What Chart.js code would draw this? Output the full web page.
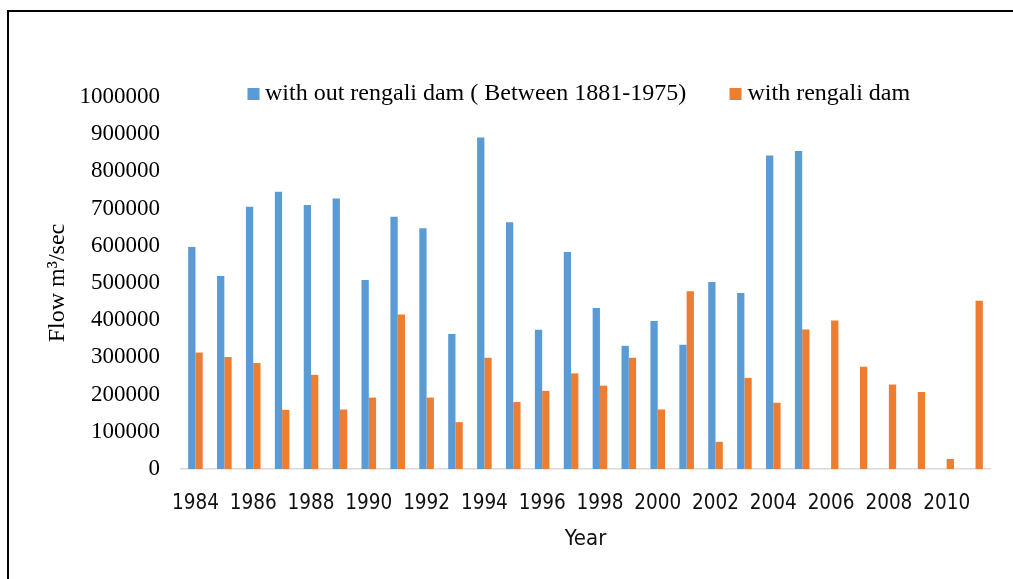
<!DOCTYPE html>
<html>
<head>
<meta charset="utf-8">
<script src="https://cdn.jsdelivr.net/npm/chart.js@4"></script>
<style>
  html, body { margin: 0; padding: 0; background: #fff; }
  #frame { position: absolute; left: 7px; top: 9.5px; width: 1100px; height: 700px;
           border-left: 2.5px solid #000; border-top: 2.5px solid #000; }
  #wrap { position: absolute; left: 0; top: 0; width: 1013px; height: 579px; }
</style>
</head>
<body>
<div id="frame"></div>
<div id="wrap"><canvas id="flow-chart" width="1013" height="579"></canvas></div>
<script>
const years = ["1984","1985","1986","1987","1988","1989","1990","1991","1992","1993",
  "1994","1995","1996","1997","1998","1999","2000","2001","2002","2003",
  "2004","2005","2006","2007","2008","2009","2010","2011"];

// flow without dam, ends in 2005
const withoutDam = [597000, 519000, 705000, 745000, 710000, 727000, 508000, 678000, 647000, 363000,
  891000, 663000, 374000, 583000, 433000, 331000, 398000, 334000, 503000, 473000,
  843000, 855000, null, null, null, null, null, null];

const withDam = [313000, 301000, 285000, 159000, 253000, 160000, 192000, 415000, 192000, 126000,
  299000, 180000, 210000, 257000, 224000, 299000, 160000, 478000, 73000, 245000,
  178000, 375000, 399000, 275000, 227000, 207000, 27000, 452000];

const seriesNames = ["with out rengali dam ( Between 1881-1975)", "with rengali dam"];
const seriesColors = ["#5B9BD5", "#ED7D31"];
const yTicksMax = 1000000;
const yStep = 100000;

const serifFont = "'Liberation Serif', 'Times New Roman', serif";
const narrowFont = "'Liberation Sans Narrow', 'DejaVu Sans Condensed', sans-serif";

// legend sits beside the top tick, inside the plot, like the excel one
const legendInPlot = {
  id: 'legendInPlot',
  afterDraw(chart) {
    const ctx = chart.ctx;
    const spots = [{ box: 247.5, text: 265 }, { box: 729.5, text: 747.5 }];
    ctx.save();
    ctx.font = "24px " + serifFont;
    ctx.textBaseline = 'middle';
    ctx.fillStyle = '#000';
    chart.data.datasets.forEach((ds, i) => {
      ctx.fillStyle = ds.backgroundColor;
      ctx.fillRect(spots[i].box, 88, 12, 12);
      ctx.fillStyle = '#000';
      ctx.fillText(ds.label, spots[i].text, 94);
    });
    ctx.restore();
  }
};

new Chart(document.getElementById('flow-chart'), {
  type: 'bar',
  data: {
    labels: years,
    datasets: [
      { label: seriesNames[0], data: withoutDam, backgroundColor: seriesColors[0] },
      { label: seriesNames[1], data: withDam, backgroundColor: seriesColors[1] }
    ]
  },
  options: {
    responsive: false,
    animation: false,
    devicePixelRatio: 1,
    categoryPercentage: 0.505,
    barPercentage: 1.0,
    layout: { padding: { left: 0, right: 23, top: 97, bottom: 0 } },
    plugins: {
      legend: { display: false },
      tooltip: { enabled: false }
    },
    scales: {
      x: {
        grid: { display: false, drawTicks: false },
        border: { display: true, color: '#d9d9d9', width: 1.5 },
        ticks: {
          autoSkip: false,
          maxRotation: 0,
          padding: 22,
          color: '#111',
          font: { family: narrowFont, size: 20.5 },
          callback: function (val, idx) { return idx % 2 === 0 ? this.getLabelForValue(val) : ''; }
        },
        title: {
          display: true,
          text: 'Year',
          color: '#111',
          font: { family: narrowFont, size: 22 },
          padding: { top: 0, bottom: 27 }
        },
        afterFit: s => { s.height = 110; }
      },
      y: {
        min: 0,
        max: yTicksMax,
        grid: { display: false, drawTicks: false },
        border: { display: false },
        ticks: {
          stepSize: yStep,
          padding: 21,
          color: '#000',
          font: { family: serifFont, size: 23 },
          callback: v => String(v)
        },
        title: {
          display: true,
          text: 'Flow m³/sec',
          color: '#000',
          font: { family: serifFont, size: 24 },
          padding: { top: 43, bottom: 0 }
        },
        afterFit: s => { s.width = 181; }
      }
    }
  },
  plugins: [legendInPlot]
});
</script>
</body>
</html>
